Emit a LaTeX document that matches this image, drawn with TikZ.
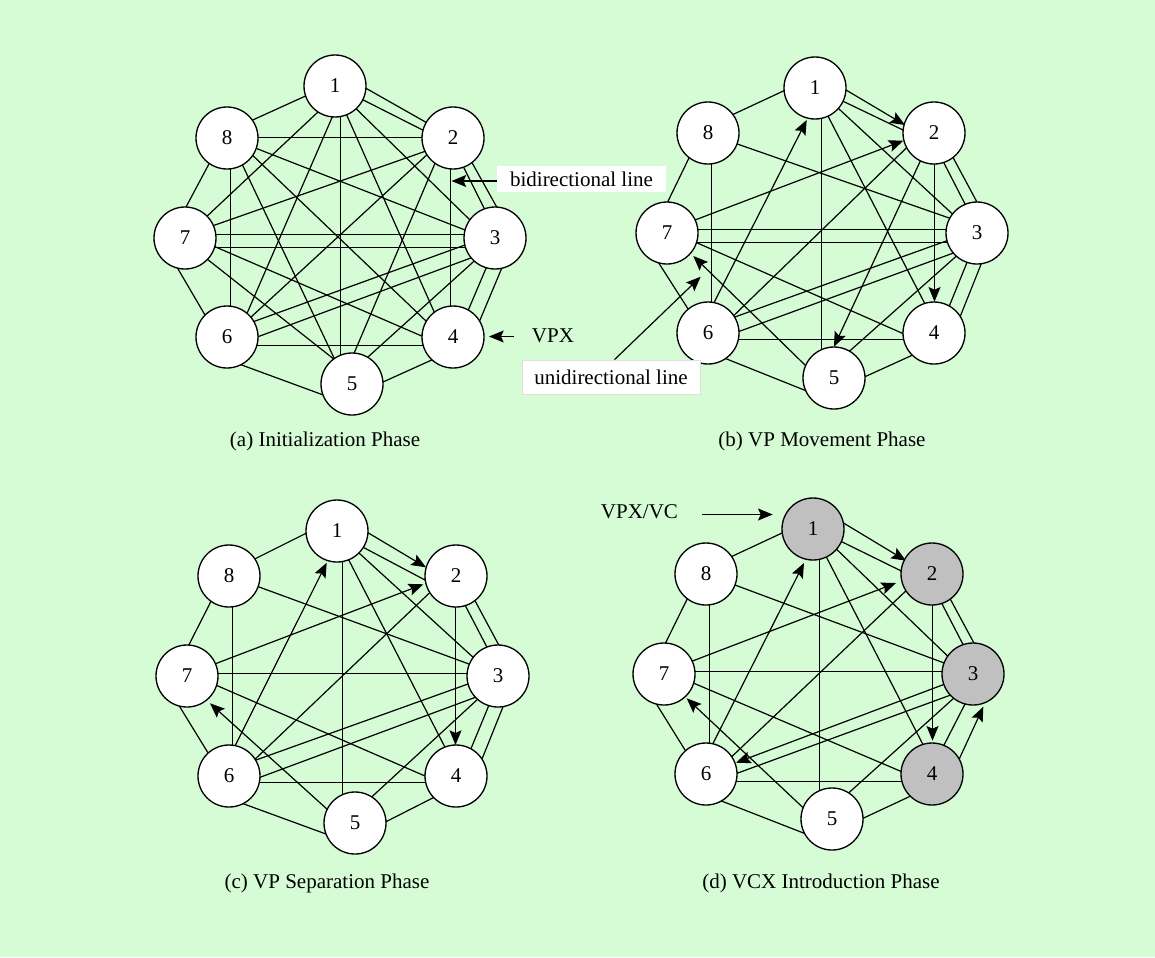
\documentclass[tikz,border=0pt]{standalone}
\usepackage{fontspec}
\setmainfont{Liberation Serif}
\usetikzlibrary{calc,arrows.meta}
\pgfdeclarelayer{back}
\pgfsetlayers{back,main}
\definecolor{paper}{RGB}{214,252,214}
\definecolor{vcfill}{RGB}{192,192,192}
\tikzset{
  vtx/.style={circle,draw,line width=1pt,fill=white,minimum size=46.5pt,inner sep=0pt,
              font=\fontsize{15.75}{18}\selectfont},
  vcx/.style={vtx,fill=vcfill},
  tipstyle/.style={-{Stealth[length=11pt,width=9pt,inset=2pt]}},
  ln/.style={line width=0.9pt,shorten <=-3pt,shorten >=-3pt},
  ar/.style={line width=0.9pt,shorten <=-3pt,tipstyle},
  ann/.style={line width=0.9pt,tipstyle},
  lbl/.style={font=\fontsize{15.75}{18}\selectfont},
}
% one connector between two vertices, each end given as an offset from the vertex centre
\newcommand\lk[5][ln]{\draw[#1] ($(#2)+(#3)$) -- ($(#4)+(#5)$);}

\begin{document}
\begin{tikzpicture}[x=0.75pt,y=-0.75pt]
\useasboundingbox (0,0) rectangle (1155,957);
\begin{pgfonlayer}{back}
  \fill[paper] (0,0) rectangle (1155,957);
\end{pgfonlayer}

% ---------------- vertices ----------------
% (a)
\node[vtx] (a1) at (335,86) {1};
\node[vtx] (a2) at (453,138) {2};
\node[vtx] (a3) at (495,238) {3};
\node[vtx] (a4) at (453,337) {4};
\node[vtx] (a5) at (352,384) {5};
\node[vtx] (a6) at (227,337) {6};
\node[vtx] (a7) at (185,238) {7};
\node[vtx] (a8) at (227,138) {8};
% (b)
\node[vtx] (b1) at (815,88) {1};
\node[vtx] (b2) at (934,133) {2};
\node[vtx] (b3) at (977,233) {3};
\node[vtx] (b4) at (934,333) {4};
\node[vtx] (b5) at (834,378) {5};
\node[vtx] (b6) at (708,333) {6};
\node[vtx] (b7) at (667,233) {7};
\node[vtx] (b8) at (708,133) {8};
% (c)
\node[vtx] (c1) at (337,531) {1};
\node[vtx] (c2) at (456,576) {2};
\node[vtx] (c3) at (498,676) {3};
\node[vtx] (c4) at (456,776) {4};
\node[vtx] (c5) at (355,823) {5};
\node[vtx] (c6) at (229,776) {6};
\node[vtx] (c7) at (187,676) {7};
\node[vtx] (c8) at (229,576) {8};
% (d)
\node[vcx] (d1) at (813,529) {1};
\node[vcx] (d2) at (932,574) {2};
\node[vcx] (d3) at (973,674) {3};
\node[vcx] (d4) at (932,774) {4};
\node[vtx] (d5) at (832,819) {5};
\node[vtx] (d6) at (706,774) {6};
\node[vtx] (d7) at (664,674) {7};
\node[vtx] (d8) at (706,574) {8};

% ---------------- connectors ----------------
\begin{pgfonlayer}{back}
% (a) initialization
\lk{a1}{-31,10.7}{a8}{25.7,-18}
\lk{a1}{31,2.3}{a2}{-26.3,-15.3}
\lk{a1}{28.3,14}{a2}{-29,-7.3}
\lk{a8}{31,-0.5}{a2}{-31,-0.5}
\lk{a8}{-17.7,25.3}{a7}{1,-31}
\lk{a8}{3.5,31}{a6}{3.5,-31}
\lk{a8}{29,10.3}{a3}{-30,-8}
\lk{a8}{26.3,18}{a4}{-26.3,-15.3}
\lk{a8}{14.7,25.3}{a5}{-17,-24}
\lk{a1}{-16.7,25.7}{a7}{23.3,-23}
\lk{a1}{-2.3,30}{a6}{20.6,-25}
\lk{a1}{5.5,30.5}{a5}{-11.5,-29}
\lk{a1}{11.7,29}{a4}{-19.7,-27}
\lk{a1}{21.7,23.3}{a3}{-25,-18}
\lk{a7}{30,-13}{a2}{-29,13.7}
\lk{a2}{-26.3,17}{a6}{23,-19}
\lk{a2}{-18,25.3}{a5}{1.3,-29}
\lk{a2}{10.3,28.7}{a3}{-10,-28}
\lk{a2}{20.3,27}{a3}{1.7,-31}
\lk{a2}{-2.5,31}{a4}{-2.5,-31}
\lk{a7}{31,-3.5}{a3}{-31,-3.5}
\lk{a7}{29.6,9.5}{a3}{-29.6,9.5}
\lk{a7}{30,8.7}{a4}{-29.7,-0.3}
\lk{a7}{23.3,22}{a5}{-17,-24}
\lk{a7}{-8.3,28.7}{a6}{-22,-22}
\lk{a6}{14.7,28}{a5}{-28.7,11}
\lk{a5}{31,-2}{a4}{-21.3,23}
\lk{a3}{-8.3,28.7}{a4}{15.3,-27}
\lk{a3}{6.7,30.3}{a4}{27,-17}
\lk{a3}{-30,7}{a6}{26.3,-15.3}
\lk{a3}{-25,20.3}{a6}{31,-0.3}
\lk{a3}{-23.3,25.3}{a5}{16.3,-27.3}
\lk{a6}{30,8.5}{a4}{-30,8.5}
% (b) VP movement
\lk{b1}{-31,2.7}{b8}{26,-19}
\lk[ar]{b1}{31,2}{b2}{-29,-8}
\lk{b1}{29,13.7}{b2}{-31,-3}
\lk[ar]{b7}{28,-13}{b2}{-30.7,7.7}
\lk[ar]{b6}{5.3,-29}{b1}{-8.3,32}
\lk{b1}{6.5,30.3}{b5}{-12.5,-28.5}
\lk{b1}{13.3,28.7}{b4}{-9,-29}
\lk{b1}{24.3,21.3}{b3}{-25.3,-19.7}
\lk{b8}{29.3,11}{b3}{-27,-14.7}
\lk{b8}{-18.7,24.3}{b7}{0.3,-30.3}
\lk{b8}{3.5,31}{b6}{3.5,-31}
\lk{b2}{-28,15.3}{b6}{25.3,-17}
\lk[ar]{b2}{-14,28.7}{b5}{0,-31.3}
\lk[ar]{b2}{0.5,31}{b4}{0.5,-31.3}
\lk{b2}{9.3,28.7}{b3}{-12,-29}
\lk{b2}{20,26.3}{b3}{0.3,-30.3}
\lk{b7}{31,-3.5}{b3}{-31,-3.5}
\lk{b7}{29.5,9.5}{b3}{-29.5,9.5}
\lk{b7}{29.7,9.7}{b4}{-30,1}
\lk[ar]{b5}{-29,-13}{b7}{26.3,23}
\lk{b7}{-8.7,29.3}{b6}{-19.7,-23.7}
\lk{b3}{-30,7.7}{b6}{26,-15.7}
\lk{b3}{-26.3,21}{b6}{30.3,-1.3}
\lk{b3}{-22,24.3}{b5}{16,-27.3}
\lk{b3}{-9.7,28.7}{b4}{15.3,-27}
\lk{b3}{4.7,29.7}{b4}{27.7,-20.3}
\lk{b6}{30,6.5}{b4}{-30,6.5}
\lk{b6}{17,25.3}{b5}{-28,12.7}
\lk{b5}{31,-1.3}{b4}{-21.3,22}
% (c) VP separation
\lk{c1}{-31,2.3}{c8}{27,-17.7}
\lk[ar]{c1}{30.3,1.3}{c2}{-30,-8.7}
\lk{c1}{27,16.7}{c2}{-31,4}
\lk[ar]{c7}{28.5,-12.3}{c2}{-32.7,8.3}
\lk[ar]{c6}{6,-30}{c1}{-10.3,31.7}
\lk{c1}{5.5,30.5}{c5}{-12.5,-28.5}
\lk{c1}{12.3,30}{c4}{-11,-28.7}
\lk{c1}{22.3,22.3}{c3}{-26.3,-20}
\lk{c8}{29.3,10.7}{c3}{-26.3,-11}
\lk{c8}{-19,27.3}{c7}{1.3,-30}
\lk{c8}{3.5,31}{c6}{3.5,-31}
\lk{c2}{-27.7,18}{c6}{27,-17.7}
\lk[ar]{c2}{-0.5,31}{c4}{-0.5,-31}
\lk{c2}{9,29}{c3}{-11.3,-29.3}
\lk{c2}{19,24.7}{c3}{1.3,-30}
\lk{c7}{31,-2.5}{c3}{-31,-2.5}
\lk{c7}{31,10}{c4}{-31,0}
\lk[ar]{c5}{-30,-15.7}{c7}{23,27.3}
\lk{c7}{-7.7,30}{c6}{-20.7,-22.7}
\lk{c3}{-30,8}{c6}{27,-16}
\lk{c3}{-22.6,21.3}{c6}{31,1.3}
\lk{c3}{-23,25.7}{c5}{17.7,-27}
\lk{c3}{-9.7,30.7}{c4}{14.7,-26.7}
\lk{c3}{5.3,30}{c4}{26.7,-18.7}
\lk{c6}{30,6.5}{c4}{-30,6.5}
\lk{c6}{15,28}{c5}{-29,11}
\lk{c5}{31,-1.3}{c4}{-22,21.3}
% (d) VCX introduction
\lk{d1}{-30.3,3.7}{d8}{26.7,-18}
\lk[ar]{d1}{31,-5.7}{d2}{-26,-13.3}
\lk{d1}{28.7,12.7}{d2}{-29.3,-2.3}
\lk[ar]{d7}{29.3,-13.3}{d2}{-36,9}
\lk[ar]{d6}{6.7,-30}{d1}{-9,34}
\lk{d1}{6.5,30.3}{d5}{-12.5,-28}
\lk{d1}{13.7,28.7}{d4}{-9.3,-30}
\lk{d1}{24.3,21}{d3}{-24.7,-17.3}
\lk{d8}{29,11}{d3}{-28,-10.7}
\lk{d8}{-19.3,26}{d7}{1,-30}
\lk{d8}{3.5,31}{d6}{3.5,-31}
\lk{d2}{-27,17.7}{d6}{25.7,-17.3}
\lk[ar]{d2}{0.5,31}{d4}{0.5,-33.3}
\lk{d2}{9.7,29.3}{d3}{-9.7,-29}
\lk{d2}{19.7,27.7}{d3}{2,-29}
\lk{d7}{31,-2.5}{d3}{-31,-2.5}
\lk{d7}{30,9.3}{d4}{-30.3,-2.3}
\lk[ar]{d5}{-29.3,-11.7}{d7}{22.7,24.3}
\lk{d7}{-8,29.3}{d6}{-21,-24}
\lk[ar]{d3}{-28,10}{d6}{30,-11.3}
\lk{d3}{-22.3,21}{d6}{31,-0.7}
\lk{d3}{-21.3,26}{d5}{18,-27.3}
\lk{d3}{-8,30}{d4}{12,-29}
\lk[ar]{d4}{28,-16.7}{d3}{10.3,32.7}
\lk{d6}{30,7.5}{d4}{-30,7.5}
\lk{d6}{14.7,26.7}{d5}{-29.3,13.7}
\lk{d5}{31,-0.7}{d4}{-21.3,22}
\end{pgfonlayer}

% ---------------- annotations ----------------
\node[lbl,fill=white,inner sep=0pt,minimum width=126.75pt,minimum height=19.5pt] (bid) at (581.5,179) {bidirectional line};
\coordinate (bidtip) at (451.5,181);
\draw[ann] ($(bid.west)+(0,2)$) -- (bidtip);

\node[lbl,anchor=west,inner sep=0pt] (vpx) at (531.7,336) {VPX};
\coordinate (vpxtip) at (489,336.5);
\draw[ann] ($(vpx.west)+(-18,0.5)$) -- (vpxtip);

\node[lbl,fill=white,draw=black!12,line width=0.6pt,inner sep=0pt,minimum width=133.5pt,minimum height=25.5pt] (uni) at (611,377) {unidirectional line};
\coordinate (unitip) at (700.7,276.7);
\draw[ann] ($(uni.north)+(3.5,0)$) -- (unitip);

\node[lbl,anchor=west,inner sep=0pt] (vpvc) at (600.7,512) {VPX/VC};
\coordinate (vpvctip) at (772.7,514.5);
\draw[ann] ($(vpvc.east)+(24,2.5)$) -- (vpvctip);

% ---------------- captions ----------------
\node[lbl] (capa) at (325,441) {(a) Initialization Phase};
\node[lbl] (capb) at (822,441) {(b) VP Movement Phase};
\node[lbl] (capc) at (327,883) {(c) VP Separation Phase};
\node[lbl] (capd) at (821,883) {(d) VCX Introduction Phase};
\end{tikzpicture}
\end{document}
